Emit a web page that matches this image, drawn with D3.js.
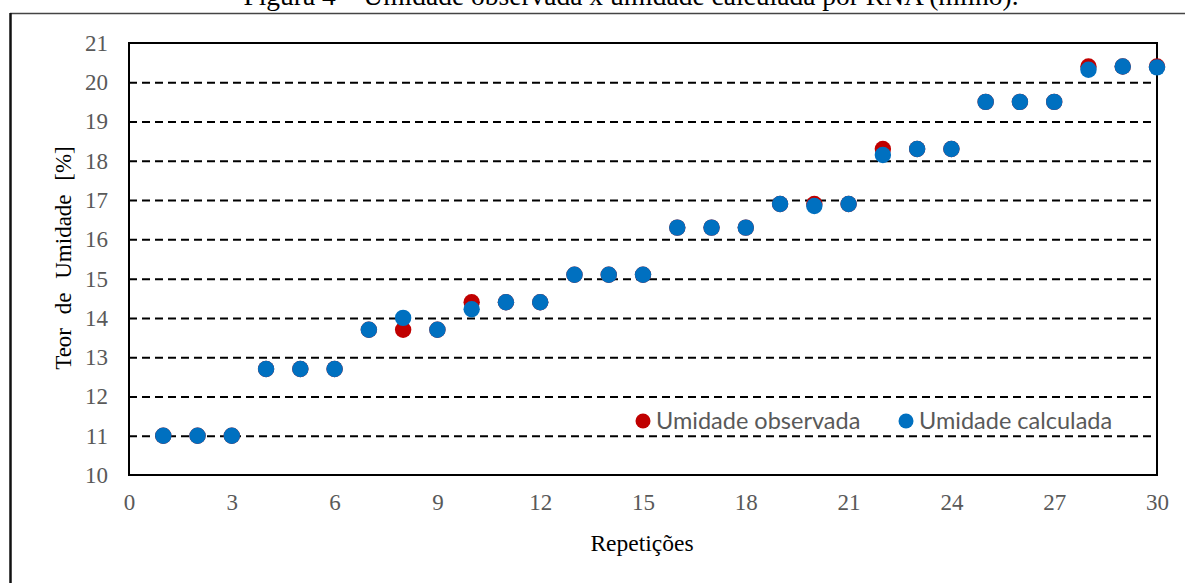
<!DOCTYPE html>
<html><head><meta charset="utf-8">
<script src="https://cdn.jsdelivr.net/npm/d3@7"></script>
<style>body{margin:0;background:#fff;}svg{display:block;}</style>
</head><body>
<script>
const repeticoes = [1,2,3,4,5,6,7,8,9,10,11,12,13,14,15,16,17,18,19,20,21,22,23,24,25,26,27,28,29,30];
const observada = [11.0,11.0,11.0,12.7,12.7,12.7,13.7,13.7,13.7,14.4,14.4,14.4,15.1,15.1,15.1,16.3,16.3,16.3,16.9,16.9,16.9,18.3,18.3,18.3,19.5,19.5,19.5,20.4,20.4,20.4];
const calculada = [11.0,11.0,11.0,12.7,12.7,12.7,13.7,14.0,13.7,14.22,14.4,14.4,15.1,15.1,15.1,16.3,16.3,16.3,16.9,16.85,16.9,18.15,18.3,18.3,19.5,19.5,19.5,20.32,20.4,20.38];
const xTicks = [0,3,6,9,12,15,18,21,24,27,30];
const yTicks = [10,11,12,13,14,15,16,17,18,19,20,21];
const seriesNames = ["Umidade observada","Umidade calculada"];
const seriesColors = ["#C00000","#0070C0"];

const W = 1185, H = 583;
const serif = "Liberation Serif, Times New Roman, serif";
const svg = d3.select("body").append("svg").attr("width", W).attr("height", H);

// title (partly cut at the top edge, as in the reference)
svg.append("text").attr("x", 631).attr("y", 5).attr("text-anchor","middle")
  .attr("font-family",serif).attr("font-size", 27.5).attr("fill","#000")
  .text("Figura 4 – Umidade observada x umidade calculada por RNA (milho).");

// outer frame
svg.append("line").attr("x1",10).attr("x2",W+5).attr("y1",13.5).attr("y2",13.5).attr("stroke","#444").attr("stroke-width",1.3);
svg.append("line").attr("x1",10.5).attr("x2",10.5).attr("y1",13).attr("y2",H+5).attr("stroke","#111").attr("stroke-width",2.5);

const L = 129, R = 1157, T = 43, B = 475;
const x = d3.scaleLinear().domain([0,30]).range([L,R]);
const y = d3.scaleLinear().domain([10,21]).range([B,T]);

// gridlines
const grid = svg.append("g").attr("transform",`translate(${L},0)`)
  .call(d3.axisLeft(y).tickValues(yTicks.filter(v=>v>10 && v<21)).tickSize(-(R-L)).tickFormat(""));
grid.select(".domain").remove();
grid.selectAll(".tick line").attr("stroke","#000").attr("stroke-width",2).attr("stroke-dasharray","8,5");

// box
svg.append("rect").attr("x",L).attr("y",T).attr("width",R-L).attr("height",B-T)
  .attr("fill","none").attr("stroke","#000").attr("stroke-width",2);

// y tick labels
const yAxis = svg.append("g").attr("transform",`translate(${L},0)`)
  .call(d3.axisLeft(y).tickValues(yTicks).tickSize(0).tickPadding(21));
yAxis.select(".domain").remove();
yAxis.selectAll("text").attr("font-family",serif).attr("font-size",23).attr("fill","#595959");

// x tick labels
const xAxis = svg.append("g").attr("transform",`translate(0,${B})`)
  .call(d3.axisBottom(x).tickValues(xTicks).tickSize(0).tickPadding(19));
xAxis.select(".domain").remove();
xAxis.selectAll("text").attr("font-family",serif).attr("font-size",23).attr("fill","#595959");

// axis titles
svg.append("text").attr("x",642).attr("y",551).attr("text-anchor","middle")
  .attr("font-family",serif).attr("font-size",23.5).attr("fill","#000").text("Repetições");
svg.append("text").attr("transform",`translate(71,258) rotate(-90)`).attr("text-anchor","middle")
  .attr("font-family",serif).attr("font-size",23).attr("fill","#000")
  .attr("word-spacing",8).text("Teor de Umidade [%]");

// points
const data = [observada, calculada];
data.forEach((vals,i)=>{
  svg.append("g").selectAll("circle").data(repeticoes).join("circle")
    .attr("cx",d=>x(d)).attr("cy",(d,j)=>y(vals[j])).attr("r",8.2).attr("fill",seriesColors[i]);
});

// legend
const legX = [643, 906];
seriesNames.forEach((n,i)=>{
  const g = svg.append("g").attr("transform",`translate(${legX[i]},421)`);
  g.append("circle").attr("r",7.5).attr("fill",seriesColors[i]);
  g.append("text").attr("x",13).attr("y",8).attr("font-family","Lato, Open Sans, sans-serif").attr("font-size",23.5)
    .attr("fill","#595959").text(n);
});
</script>
</body></html>
